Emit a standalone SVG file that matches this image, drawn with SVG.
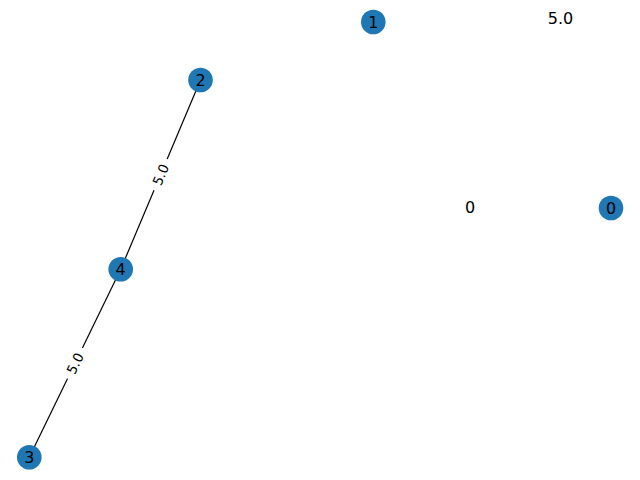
<svg xmlns="http://www.w3.org/2000/svg" width="640" height="480" viewBox="0 0 640 480">
<style>
.node circle{fill:#1f77b4}
.node text{font-family:"DejaVu Sans",sans-serif;font-size:16px;fill:#000;text-anchor:middle;dominant-baseline:central}
.edge{stroke:#000;stroke-width:1.2}
.elab text{font-family:"DejaVu Sans",sans-serif;font-size:13.5px;fill:#000;text-anchor:middle;dominant-baseline:central}
.elab rect{fill:#fff}
.free{font-family:"DejaVu Sans",sans-serif;font-size:16px;fill:#000;text-anchor:middle;dominant-baseline:central}
</style>
<rect width="640" height="480" fill="#fff"/>
<g id="connectors">
<line class="edge" x1="200.5" y1="80" x2="120.7" y2="269.3"/>
<line class="edge" x1="120.7" y1="269.3" x2="29.3" y2="457.3"/>
<g class="elab" transform="translate(160.6,174.6) rotate(-67.1)">
<rect x="-17" y="-9" width="34" height="18"/>
<text x="0" y="0">5.0</text>
</g>
<g class="elab" transform="translate(75,363.3) rotate(-64.1)">
<rect x="-17" y="-9" width="34" height="18"/>
<text x="0" y="0">5.0</text>
</g>
</g>
<g id="node-0" class="node"><circle cx="611" cy="208" r="12.3"/><text x="611" y="208">0</text></g>
<g id="node-1" class="node"><circle cx="373.3" cy="22" r="12.3"/><text x="373.3" y="22">1</text></g>
<g id="node-2" class="node"><circle cx="200.5" cy="80" r="12.3"/><text x="200.5" y="80">2</text></g>
<g id="node-3" class="node"><circle cx="29.3" cy="457.3" r="12.3"/><text x="29.3" y="457.3">3</text></g>
<g id="node-4" class="node"><circle cx="120.7" cy="269.3" r="12.3"/><text x="120.7" y="269.3">4</text></g>
<text class="free" x="560.5" y="18">5.0</text>
<text class="free" x="470" y="207">0</text>
</svg>
